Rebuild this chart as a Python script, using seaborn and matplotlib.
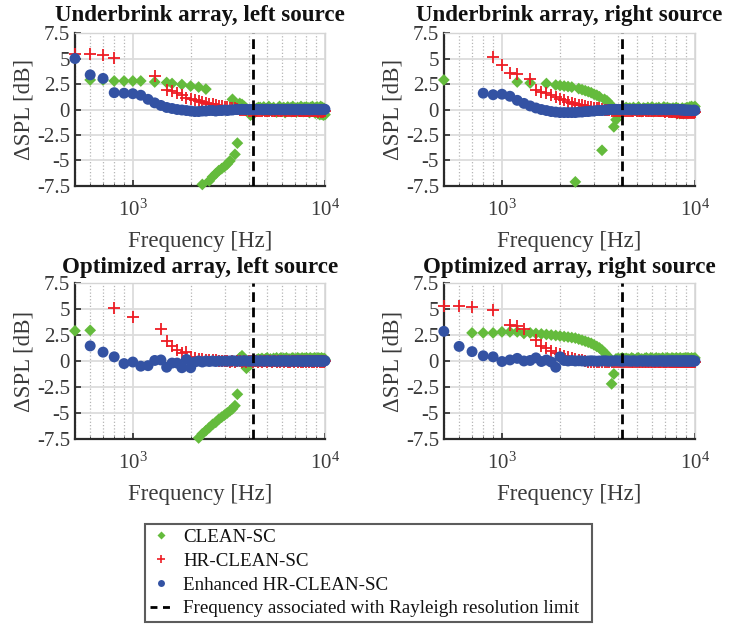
import numpy as np
import matplotlib
matplotlib.use("Agg")
import matplotlib.pyplot as plt
import seaborn as sns
from matplotlib.lines import Line2D
from matplotlib.ticker import LogLocator, NullFormatter

nan = np.nan

# frequency grid of the maps: 500 Hz ... 10 kHz, 100 Hz steps
FREQ = np.arange(500, 10001, 100)
F_RAYLEIGH = 4200

Y_TICKS = [-7.5, -5, -2.5, 0, 2.5, 5, 7.5]
Y_TICK_LABELS = ["-7.5", "-5", "-2.5", "0", "2.5", "5", "7.5"]

TITLES = ["Underbrink array, left source", "Underbrink array, right source",
          "Optimized array, left source", "Optimized array, right source"]
LABELS = ["CLEAN-SC", "HR-CLEAN-SC", "Enhanced HR-CLEAN-SC",
          "Frequency associated with Rayleigh resolution limit"]

# ---- Underbrink array, left source (dSPL in dB, nan = not shown)
UL_CLEAN = [nan, 2.9, 2.9, 2.8, 2.8, 2.8, 2.8, nan, 2.7, nan, 2.65,
            2.55, nan, 2.45, nan, 2.3, nan, 2.2, -7.35, 2.0, -7.0, -6.6,
            -6.3, -6.0, -5.8, -5.6, -5.35, -5.05, 1.0, -4.4, -3.3, 0.6, 0.5,
            0.3, 0.1, -0.2, -0.55, -0.5, -0.2, 0.1, 0.2,
            0.2, -0.1, 0.25, 0.0, -0.2, 0.3, 0.1, -0.15, 0.2, 0.0, -0.25,
            0.15, 0.3, -0.1, 0.0, 0.2, -0.3, 0.1, 0.25, -0.05, 0.15, -0.2,
            0.3, 0.0, 0.1, -0.25, 0.2, 0.05, -0.15, 0.3, 0.1, -0.2, 0.2,
            0.0, 0.25, -0.1, 0.15, -0.3, 0.2, 0.05, 0.3, -0.15, 0.1, -0.35,
            0.2, 0.25, -0.4, 0.1, -0.5, 0.3, -0.45, 0.2, -0.55, 0.1, -0.5]
UL_HR = [5.4, 5.45, 5.3, 5.1, nan, nan, nan, nan, 3.3, nan, 1.9,
         1.8, 1.6, 1.4, 1.1, 1.0, 0.9, 0.8, 0.75, 0.65, 0.55, 0.5,
         0.4, 0.35, 0.3, 0.25, 0.2, 0.15, 0.1, 0.1, 0.05, 0.0, 0.0,
         -0.05, -0.05, -0.1, -0.1, -0.1, -0.1, -0.1, -0.1,
         -0.1, -0.12, -0.08, -0.1, -0.15, -0.1, -0.05, -0.1, -0.12, -0.1, -0.08,
         -0.1, -0.15, -0.1, -0.1, -0.05, -0.1, -0.12, -0.1, -0.08, -0.1, -0.1,
         -0.12, -0.1, -0.15, -0.1, -0.08, -0.1, -0.1, -0.12, -0.1, -0.05, -0.1,
         -0.1, -0.15, -0.1, -0.12, -0.1, -0.08, -0.1, -0.15, -0.1, -0.12, -0.1,
         -0.1, -0.15, -0.2, -0.1, -0.15, -0.2, -0.1, -0.15, -0.2, -0.15, -0.1]
UL_ENH = [5.0, 3.4, 3.05, 1.65, 1.6, 1.55, 1.4, 1.0, 0.65, 0.4, 0.2,
          0.1, 0.0, -0.05, -0.1, -0.15, -0.2, -0.2, -0.15, -0.15, -0.1, -0.1,
          -0.15, -0.1, -0.1, -0.05, -0.1, -0.05, -0.05, 0.0, 0.0, 0.0, 0.02,
          0.0, 0.0, -0.02, 0.0, 0.0, 0.02, 0.0, 0.0,
          0.0, 0.02, -0.02, 0.0, 0.03, 0.0, -0.03, 0.02, 0.0, -0.02, 0.0,
          0.03, 0.0, -0.02, 0.02, 0.0, -0.03, 0.0, 0.02, 0.0, -0.02, 0.03,
          0.0, -0.02, 0.0, 0.02, -0.03, 0.0, 0.02, 0.0, -0.02, 0.0, 0.03,
          -0.02, 0.0, 0.02, 0.0, -0.03, 0.02, 0.0, -0.02, 0.0, 0.03, 0.0,
          -0.02, 0.02, 0.0, -0.03, 0.0, 0.02, -0.02, 0.0, 0.03, 0.0, 0.02]

# ---- Underbrink array, right source
UR_CLEAN = [2.9, nan, nan, nan, nan, nan, nan, 2.7, nan, 2.6, nan,
            nan, 2.55, nan, 2.4, 2.35, 2.3, 2.25, 2.2, -7.1, 2.05, 1.95,
            1.85, 1.75, 1.65, 1.5, 1.4, 1.25, -4.0, 1.0, 0.85, 0.6, 0.35,
            -1.7, -1.0, -0.5, -0.2, 0.0, 0.1, 0.2, 0.1,
            0.15, -0.1, 0.2, 0.05, -0.15, 0.25, 0.0, -0.2, 0.15, 0.1, -0.1,
            0.2, -0.05, 0.1, 0.25, -0.2, 0.0, 0.15, -0.1, 0.2, 0.05, -0.15,
            0.1, 0.25, -0.1, 0.0, 0.2, -0.2, 0.1, 0.05, -0.25, 0.15, 0.0,
            -0.3, 0.2, -0.35, 0.1, -0.4, 0.0, -0.35, 0.15, -0.4, -0.2, 0.1,
            -0.3, 0.2, -0.35, 0.0, 0.25, -0.2, 0.3, -0.1, 0.2, -0.25, 0.3]
UR_HR = [nan, nan, nan, nan, 5.15, 4.4, 3.6, 3.5, nan, 3.0, 1.9,
         1.75, 1.6, 1.45, 1.25, 1.0, 0.9, 0.75, 0.65, 0.55, 0.45, 0.4,
         0.3, 0.25, 0.2, 0.15, 0.1, 0.1, 0.05, 0.0, 0.0, -0.05, -0.1,
         -0.1, -0.1, -0.1, -0.1, -0.1, -0.1, -0.1, -0.1,
         -0.1, -0.12, -0.1, -0.08, -0.1, -0.15, -0.1, -0.1, -0.12, -0.08, -0.1,
         -0.1, -0.12, -0.15, -0.1, -0.1, -0.08, -0.12, -0.1, -0.15, -0.1, -0.12,
         -0.15, -0.1, -0.2, -0.15, -0.1, -0.2, -0.15, -0.2, -0.25, -0.2, -0.15,
         -0.25, -0.2, -0.3, -0.25, -0.2, -0.3, -0.25, -0.3, -0.2, -0.3, -0.25,
         -0.3, -0.25, -0.3, -0.2, -0.3, -0.25, -0.3, -0.2, -0.25, -0.3, -0.2]
UR_ENH = [nan, nan, nan, 1.6, 1.45, 1.5, 1.3, 0.9, 0.6, 0.35, 0.15,
          0.0, -0.1, -0.2, -0.25, -0.3, -0.3, -0.3, -0.3, -0.3, -0.25, -0.25,
          -0.2, -0.2, -0.15, -0.15, -0.1, -0.1, -0.1, -0.05, -0.05, 0.0, 0.0,
          0.0, 0.02, 0.0, 0.0, 0.0, 0.0, 0.02, 0.0,
          0.0, -0.02, 0.02, 0.0, -0.03, 0.0, 0.02, -0.02, 0.0, 0.03, 0.0,
          -0.02, 0.0, 0.02, -0.03, 0.0, 0.02, 0.0, -0.02, 0.03, 0.0, -0.02,
          0.0, 0.02, 0.0, -0.03, 0.02, 0.0, -0.02, 0.0, 0.03, -0.02, 0.0,
          0.02, -0.03, 0.0, -0.02, 0.0, -0.05, -0.03, -0.05, 0.0, -0.08, -0.05,
          -0.1, -0.05, -0.08, -0.1, -0.05, -0.1, -0.12, -0.08, -0.1, -0.05, -0.1]

# ---- Optimized array, left source
OL_CLEAN = [2.9, 2.95, nan, nan, nan, nan, nan, nan, nan, nan, nan,
            nan, nan, nan, nan, nan, nan, -7.4, -7.0, -6.7, -6.4, -6.1,
            -5.9, -5.6, -5.4, -5.2, -5.0, -4.8, -4.6, -4.3, -3.2, 0.3, 0.5,
            0.2, -0.7, -0.5, -0.3, -0.1, 0.0, 0.1, 0.2,
            0.15, 0.25, 0.05, 0.2, 0.3, 0.1, 0.2, -0.05, 0.25, 0.15, 0.3,
            0.1, 0.2, 0.3, 0.05, 0.25, 0.15, 0.3, 0.1, 0.2, 0.0, 0.25,
            0.3, 0.15, 0.2, 0.05, 0.3, 0.25, 0.1, 0.2, 0.3, 0.15, 0.25,
            0.05, 0.3, 0.2, 0.1, 0.25, 0.3, 0.15, 0.2, 0.0, 0.3, 0.25,
            0.1, 0.2, 0.3, 0.15, 0.25, 0.05, 0.3, 0.2, 0.1, 0.25, 0.15]
OL_HR = [nan, nan, nan, 5.05, nan, 4.25, nan, nan, nan, 3.05, 1.9,
         1.4, 1.05, 0.8, 0.85, 0.4, 0.3, 0.2, 0.15, 0.1, 0.1, 0.05,
         0.05, 0.0, 0.0, -0.02, 0.0, -0.05, 0.0, -0.05, -0.02, 0.0, -0.05,
         0.0, -0.05, -0.02, 0.0, -0.05, 0.0, -0.02, -0.05,
         0.0, -0.05, -0.02, 0.0, -0.05, 0.0, -0.03, -0.05, 0.0, -0.02, -0.05,
         0.0, -0.05, 0.0, -0.03, -0.05, 0.0, -0.02, -0.05, 0.0, -0.05, -0.02,
         0.0, -0.05, 0.0, -0.03, -0.05, 0.0, -0.02, -0.05, 0.0, -0.05, -0.02,
         0.0, -0.05, 0.0, -0.03, -0.05, 0.0, -0.02, -0.05, 0.0, -0.05, -0.02,
         0.0, -0.05, 0.0, -0.03, -0.05, 0.0, -0.02, -0.05, 0.0, -0.05, 0.0]
OL_ENH = [nan, 1.45, 0.85, 0.4, -0.25, -0.1, -0.5, -0.45, 0.05, 0.1, -0.6,
          -0.2, -0.2, -0.65, 0.15, -0.65, -0.1, 0.0, -0.1, 0.0, -0.05, 0.0,
          -0.05, 0.0, -0.03, 0.0, -0.02, 0.0, 0.02, 0.0, -0.02, 0.0, 0.0,
          0.02, 0.0, -0.02, 0.0, 0.0, 0.02, 0.0, 0.0,
          0.0, 0.02, -0.02, 0.0, 0.03, 0.0, -0.02, 0.0, 0.02, 0.0, -0.03,
          0.0, 0.02, -0.02, 0.0, 0.03, 0.0, -0.02, 0.02, 0.0, -0.03, 0.0,
          0.02, 0.0, -0.02, 0.0, 0.03, -0.02, 0.0, 0.02, 0.0, -0.03, 0.0,
          0.02, -0.02, 0.0, 0.03, 0.0, -0.02, 0.0, 0.02, -0.03, 0.0, 0.02,
          0.0, -0.02, 0.03, 0.0, -0.02, 0.0, 0.02, 0.0, -0.03, 0.0, 0.02]

# ---- Optimized array, right source
OR_CLEAN = [nan, nan, 2.7, 2.7, 2.7, 2.8, 2.8, 2.8, 2.65, 2.7, 2.65,
            2.6, 2.55, 2.5, 2.45, 2.4, 2.35, 2.3, 2.25, 2.2, 2.1, 2.0,
            1.9, 1.8, 1.7, 1.55, 1.4, 1.25, 1.05, 0.8, 0.55, 0.3, -2.2,
            -1.25, 0.2, 0.25, 0.2, 0.3, 0.2, 0.25, 0.2,
            0.15, 0.3, 0.2, 0.1, 0.25, 0.3, 0.15, 0.2, 0.05, 0.25, 0.3,
            0.2, 0.1, 0.3, 0.25, 0.15, 0.2, 0.3, 0.05, 0.25, 0.2, 0.15,
            0.3, 0.2, 0.1, 0.25, 0.3, 0.15, 0.2, 0.05, 0.3, 0.25, 0.2,
            0.1, 0.3, 0.2, 0.15, 0.25, 0.3, 0.1, 0.2, 0.25, 0.05, 0.3,
            0.2, 0.15, 0.3, 0.25, 0.1, 0.2, 0.3, 0.15, 0.25, 0.2, 0.3]
OR_HR = [5.3, 5.25, 5.15, nan, 4.95, nan, 3.45, 3.35, 3.1, nan, 2.0,
         1.45, 1.25, 0.95, 0.8, 0.7, 0.5, 0.35, 0.25, 0.15, 0.1, 0.05,
         0.0, -0.05, -0.05, -0.1, -0.05, -0.1, -0.05, -0.1, -0.1, -0.05, -0.1,
         -0.1, -0.05, -0.1, -0.1, -0.05, -0.1, -0.1, -0.05,
         -0.1, -0.05, -0.1, -0.08, -0.1, -0.05, -0.1, -0.1, -0.05, -0.1, -0.08,
         -0.1, -0.05, -0.1, -0.1, -0.08, -0.05, -0.1, -0.1, -0.05, -0.1, -0.08,
         -0.1, -0.05, -0.1, -0.1, -0.08, -0.05, -0.1, -0.1, -0.05, -0.1, -0.08,
         -0.1, -0.05, -0.1, -0.1, -0.08, -0.05, -0.1, -0.1, -0.05, -0.1, -0.08,
         -0.1, -0.05, -0.1, -0.1, -0.08, -0.05, -0.1, -0.1, -0.05, -0.1, -0.1]
OR_ENH = [2.85, 1.4, 0.9, 0.5, 0.4, -0.05, 0.1, 0.25, 0.0, 0.05, 0.3,
          -0.05, 0.1, -0.1, -0.6, 0.4, 0.05, 0.0, 0.05, 0.0, 0.02, 0.0,
          -0.02, 0.0, 0.02, 0.0, -0.02, 0.0, 0.0, 0.02, 0.0, -0.02, 0.0,
          0.0, 0.02, 0.0, 0.0, -0.02, 0.0, 0.02, 0.0,
          0.0, -0.02, 0.02, 0.0, -0.03, 0.0, 0.02, 0.0, -0.02, 0.03, 0.0,
          -0.02, 0.0, 0.02, 0.0, -0.03, 0.02, 0.0, -0.02, 0.0, 0.03, 0.0,
          -0.02, 0.02, 0.0, -0.03, 0.0, 0.02, 0.0, -0.02, 0.03, 0.0, -0.02,
          0.0, 0.02, 0.0, -0.03, 0.02, 0.0, -0.02, 0.0, 0.03, 0.0, -0.02,
          0.02, 0.0, -0.03, 0.0, 0.02, 0.0, -0.02, 0.03, 0.0, -0.02, 0.0]

GREEN = "#64bb3c"
RED = "#ee1c24"
BLUE = "#3352a3"
TXT = "#3a3a3a"

sns.set_style("ticks")
plt.rcParams["font.family"] = ["Liberation Serif", "DejaVu Serif"]
plt.rcParams["mathtext.fontset"] = "custom"
plt.rcParams["mathtext.rm"] = "Liberation Serif"
plt.rcParams["mathtext.it"] = "Liberation Serif:italic"
plt.rcParams["axes.unicode_minus"] = False


def draw_panel(ax, title, clean, hr, enh, title_pad):
    ax.set_xscale("log")
    sns.scatterplot(x=FREQ, y=clean, ax=ax, marker="D", s=36, color=GREEN,
                    edgecolor="none", zorder=3)
    sns.scatterplot(x=FREQ, y=hr, ax=ax, marker="+", s=80, color=RED,
                    linewidth=1.3, zorder=4)
    sns.scatterplot(x=FREQ, y=enh, ax=ax, marker="o", s=62, color=BLUE,
                    edgecolor="none", zorder=5)
    for c in ax.collections:
        c.set_clip_on(False)
    ax.axvline(F_RAYLEIGH, color="k", ls="--", lw=2, dashes=(3.5, 2), zorder=6)

    ax.set_xlim(500, 10000)
    ax.set_ylim(-7.5, 7.5)
    ax.set_yticks(Y_TICKS)
    ax.set_yticklabels(Y_TICK_LABELS)
    ax.xaxis.set_major_locator(LogLocator(base=10, numticks=5))
    ax.xaxis.set_minor_locator(LogLocator(base=10, subs=np.arange(2, 10), numticks=20))
    ax.xaxis.set_minor_formatter(NullFormatter())

    ax.set_axisbelow(True)
    ax.grid(True, which="major", color="#dcdcdc", lw=1.3, ls="-")
    ax.grid(True, which="minor", axis="x", color="#b5b5b5", lw=0.9, ls=":")

    for side in ["left", "bottom"]:
        ax.spines[side].set_color("#2a2a2a")
        ax.spines[side].set_linewidth(1.6)
    for side in ["top", "right"]:
        ax.spines[side].set_color("#d5d5d5")
        ax.spines[side].set_linewidth(1.0)

    ax.tick_params(axis="both", which="major", direction="in", length=4,
                   width=1.2, color="#2a2a2a", labelsize=15, labelcolor=TXT)
    ax.tick_params(axis="x", which="major", pad=10)
    ax.tick_params(axis="x", which="minor", direction="in", length=2.5,
                   color="#2a2a2a")
    ax.set_title(title, fontsize=16.6, fontweight="bold", pad=title_pad,
                 color="#111111")
    ax.set_xlabel("Frequency [Hz]", fontsize=16.5, color=TXT, labelpad=7)
    ax.set_ylabel("ΔSPL [dB]", fontsize=16.5, color=TXT, labelpad=2)


fig = plt.figure(figsize=(7.3, 6.24), dpi=100)
positions = [[0.1027, 0.702, 0.3425, 0.245], [0.608, 0.702, 0.344, 0.245],
             [0.1027, 0.2965, 0.3425, 0.25], [0.608, 0.2965, 0.344, 0.25]]
title_pads = [8.5, 8.5, 7.5, 7.5]
series = [(UL_CLEAN, UL_HR, UL_ENH), (UR_CLEAN, UR_HR, UR_ENH),
          (OL_CLEAN, OL_HR, OL_ENH), (OR_CLEAN, OR_HR, OR_ENH)]

for pos, title, pad, (clean, hr, enh) in zip(positions, TITLES, title_pads, series):
    ax = fig.add_axes(pos)
    draw_panel(ax, title, clean, hr, enh, pad)

handles = [
    Line2D([], [], ls="none", marker="D", ms=4, color=GREEN, mec="none"),
    Line2D([], [], ls="none", marker="+", ms=6, color=RED, mew=1.2),
    Line2D([], [], ls="none", marker="o", ms=5, color=BLUE, mec="none"),
    Line2D([], [], ls="--", color="k", lw=2, dashes=(2.5, 2)),
]
leg = fig.legend(handles, LABELS, loc="lower left",
                 bbox_to_anchor=(0.199, 0.003, 0.612, 0.159), mode="expand",
                 frameon=True, fancybox=False, edgecolor="#333333",
                 fontsize=13.7, handlelength=1.2, handletextpad=0.55,
                 labelspacing=0.34, borderaxespad=0, borderpad=0.25)
leg.get_frame().set_linewidth(1.5)
for t in leg.get_texts():
    t.set_color("#111111")

fig.savefig("out.png", dpi=100)
plt.close(fig)
